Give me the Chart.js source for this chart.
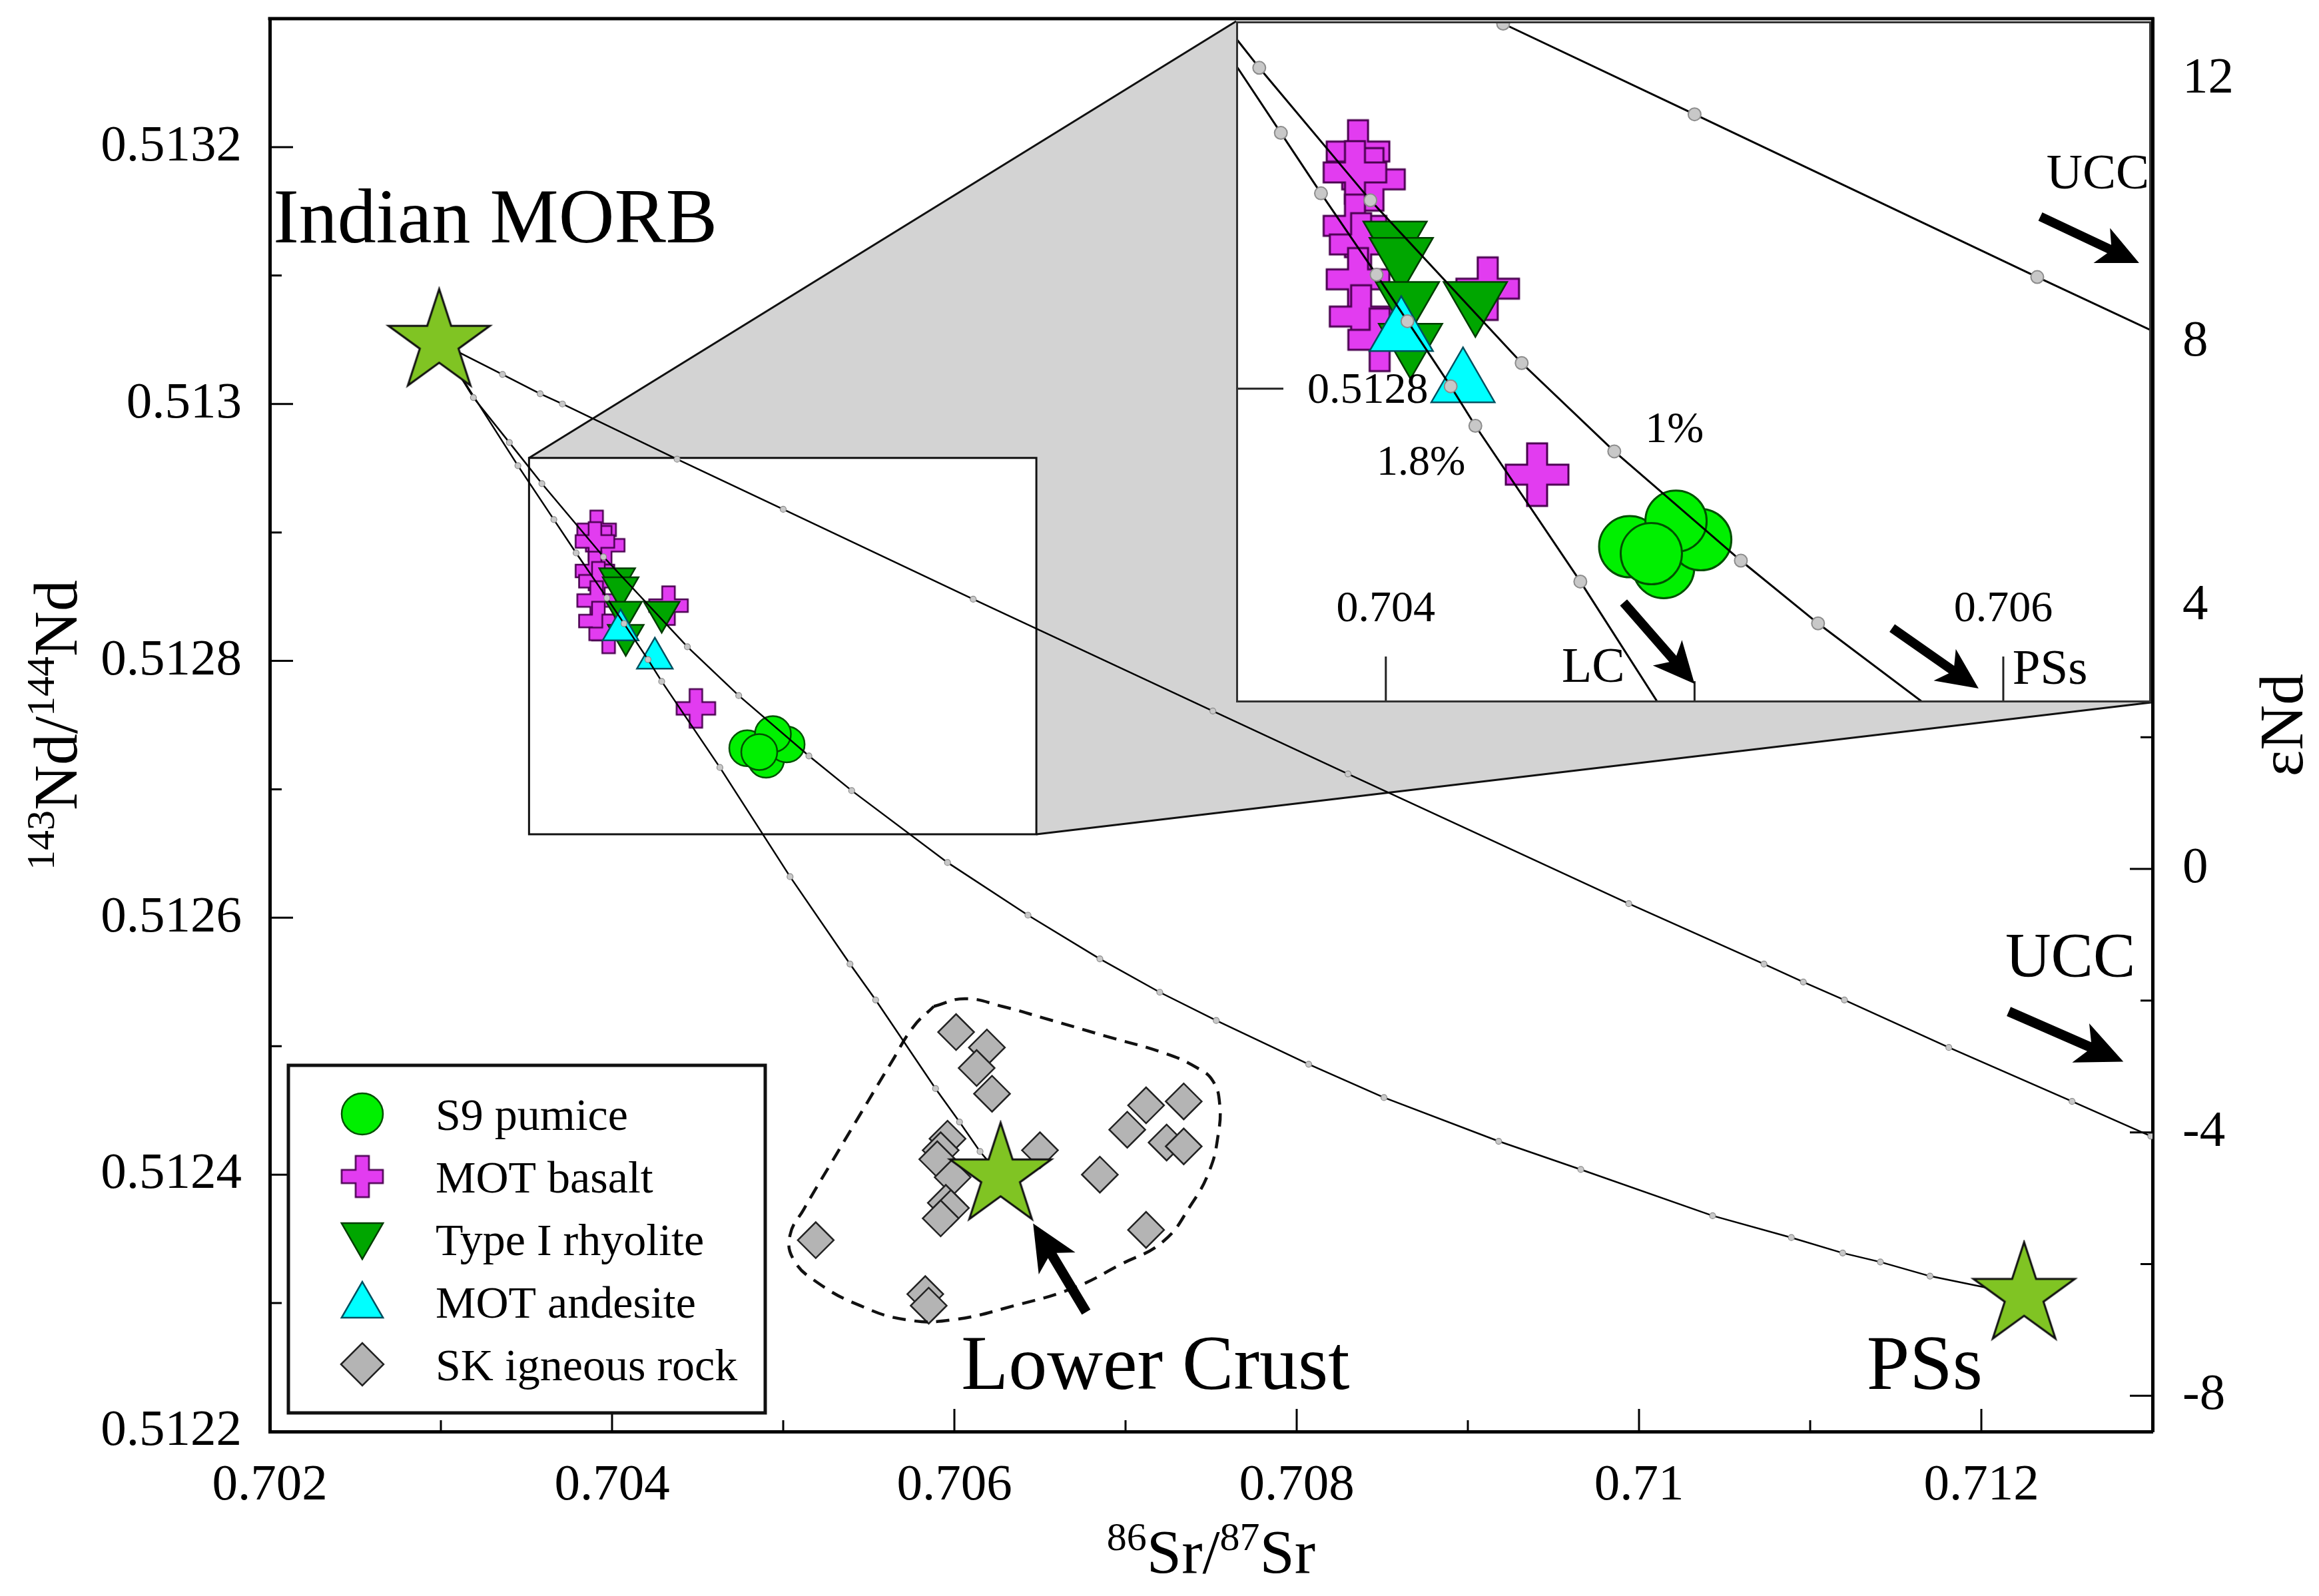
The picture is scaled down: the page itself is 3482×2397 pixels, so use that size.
<!DOCTYPE html>
<html>
<head>
<meta charset="utf-8">
<script src="https://cdn.jsdelivr.net/npm/chart.js@4.4.0/dist/chart.umd.min.js"></script>
<style>
  html, body { margin: 0; padding: 0; background: #fff; }
  #wrap { position: relative; width: 3482px; height: 2397px; }
  #main { position: absolute; left: 0; top: 0; }
  #inset { position: absolute; }
</style>
</head>
<body>
<div id="wrap">
  <canvas id="main" width="3482" height="2397"></canvas>
  <canvas id="inset"></canvas>
</div>
<script>
// ---- data ----
// mixing curves from Indian MORB (dots = mixing steps)
var ucc_sr = [0.70299, 0.70336, 0.70358, 0.70371, 0.70438, 0.70500, 0.70611, 0.70751, 0.70830, 0.70994, 0.71073, 0.71096, 0.71120, 0.71181, 0.71253, 0.71299];
var ucc_nd = [0.513048, 0.513023, 0.513008, 0.513000, 0.512957, 0.512918, 0.512848, 0.512761, 0.512712, 0.512611, 0.512564, 0.512550, 0.512536, 0.512499, 0.512457, 0.512430];
var pss_sr = [0.70299, 0.70319, 0.70340, 0.70359, 0.70395, 0.70444, 0.70474, 0.70515, 0.70540, 0.70596, 0.70643, 0.70685, 0.70720, 0.70753, 0.70807, 0.70851, 0.70918, 0.70966, 0.71043, 0.71089, 0.71119, 0.71141, 0.71170, 0.71225];
var pss_nd = [0.513048, 0.513005, 0.512970, 0.512938, 0.512881, 0.512811, 0.512773, 0.512726, 0.512699, 0.512643, 0.512602, 0.512568, 0.512542, 0.512520, 0.512486, 0.512460, 0.512426, 0.512404, 0.512368, 0.512351, 0.512339, 0.512332, 0.512321, 0.512306];
var lc_sr = [0.70299, 0.70345, 0.70366, 0.70379, 0.70397, 0.70407, 0.70421, 0.70429, 0.70463, 0.70504, 0.70539, 0.70554, 0.70589, 0.70603, 0.70615, 0.70627];
var lc_nd = [0.513048, 0.512952, 0.512910, 0.512884, 0.512849, 0.512829, 0.512801, 0.512784, 0.512717, 0.512632, 0.512564, 0.512536, 0.512467, 0.512441, 0.512418, 0.512399];

// samples
var pumice_sr = [0.70479, 0.70490, 0.70502, 0.70494, 0.70486];
var pumice_nd = [0.512732, 0.512723, 0.512735, 0.512743, 0.512729];
var basalt_sr = [0.70391, 0.70396, 0.70390, 0.70390, 0.70392, 0.70391, 0.70392, 0.70398, 0.70433, 0.70449];
var basalt_nd = [0.512902, 0.512890, 0.512893, 0.512870, 0.512862, 0.512847, 0.512831, 0.512821, 0.512843, 0.512763];
var rhyolite_sr = [0.70403, 0.70405, 0.70407, 0.70429, 0.70408];
var rhyolite_nd = [0.512864, 0.512857, 0.512838, 0.512838, 0.512820];
var andesite_sr = [0.70405, 0.70425];
var andesite_nd = [0.512824, 0.512802];
var sk_sr = [0.70601, 0.70619, 0.70613, 0.70622, 0.70596, 0.70592, 0.70590, 0.70599, 0.70595, 0.70598, 0.70592, 0.70650, 0.70712, 0.70734, 0.70701, 0.70724, 0.70734, 0.70685, 0.70712, 0.70519, 0.70583, 0.70585];
var sk_nd = [0.512511, 0.512499, 0.512483, 0.512463, 0.512428, 0.512419, 0.512412, 0.512398, 0.512378, 0.512374, 0.512366, 0.512419, 0.512454, 0.512457, 0.512435, 0.512425, 0.512422, 0.512400, 0.512357, 0.512349, 0.512307, 0.512298];

// end-members
var end_names = ['Indian MORB', 'Lower Crust', 'PSs'];
var end_sr = [0.70299, 0.70627, 0.71225];
var end_nd = [0.513048, 0.512399, 0.512306];

// dashed field around the SK rocks
var field_sr = [0.70588, 0.70606, 0.70628, 0.70652, 0.70688, 0.70724, 0.70742, 0.70751, 0.70755, 0.70754, 0.70749, 0.70738, 0.70722, 0.70697, 0.70670, 0.70635, 0.70599, 0.70572, 0.70545, 0.70520, 0.70506, 0.70504, 0.70512, 0.70528, 0.70545, 0.70563, 0.70576, 0.70588];
var field_nd = [0.512531, 0.512537, 0.512531, 0.512522, 0.512508, 0.512494, 0.512483, 0.512473, 0.512455, 0.512430, 0.512403, 0.512376, 0.512348, 0.512330, 0.512312, 0.512298, 0.512287, 0.512287, 0.512298, 0.512316, 0.512334, 0.512353, 0.512373, 0.512409, 0.512447, 0.512487, 0.512515, 0.512531];

// axes
var x_range = [0.702, 0.713];
var y_range = [0.5122, 0.5133];
var x_ticks = [0.702, 0.704, 0.706, 0.708, 0.710, 0.712];
var x_tick_labels = ['0.702', '0.704', '0.706', '0.708', '0.71', '0.712'];
var x_minor = [0.703, 0.705, 0.707, 0.709, 0.711];
var y_ticks = [0.5122, 0.5124, 0.5126, 0.5128, 0.5130, 0.5132];
var y_tick_labels = ['0.5122', '0.5124', '0.5126', '0.5128', '0.513', '0.5132'];
var y_minor = [0.5123, 0.5125, 0.5127, 0.5129, 0.5131];
var eps_ticks = [-8, -4, 0, 4, 8, 12];
var eps_tick_labels = ['-8', '-4', '0', '4', '8', '12'];
var eps_minor = [-6, -2, 2, 6, 10];
var CHUR = 0.512638;

// zoomed window
var inset_x = [0.703515, 0.706479];
var inset_y = [0.512665, 0.512958];
var inset_x_ticks = [0.704, 0.705, 0.706];
var inset_x_labels = ['0.704', '', '0.706'];
var inset_y_ticks = [0.5128];
var inset_y_labels = ['0.5128'];

// text and arrows (data coordinates)
var main_labels = [
  { text: 'Indian MORB', sr: 0.70202, nd: 0.513126, size: 116 },
  { text: 'Lower Crust', sr: 0.70604, nd: 0.512233, size: 116 },
  { text: 'PSs', sr: 0.71133, nd: 0.512233, size: 116 },
  { text: 'UCC', sr: 0.71214, nd: 0.512554, size: 95 }
];
var main_arrows = [
  { from: [0.71216, 0.512527], to: [0.71283, 0.512488] },
  { from: [0.70677, 0.512293], to: [0.70646, 0.512362] }
];
var inset_labels = [
  { text: 'UCC', sr: 0.70614, nd: 0.512886, size: 75 },
  { text: '1%', sr: 0.70484, nd: 0.512777, size: 66 },
  { text: '1.8%', sr: 0.70397, nd: 0.512763, size: 64 },
  { text: 'LC', sr: 0.70457, nd: 0.512674, size: 74 },
  { text: 'PSs', sr: 0.70603, nd: 0.512673, size: 75 }
];
var inset_arrows = [
  { from: [0.70612, 0.512874], to: [0.70644, 0.512854] },
  { from: [0.70477, 0.512708], to: [0.70500, 0.512673] },
  { from: [0.70564, 0.512697], to: [0.70592, 0.512671] }
];

// ---- layout ----
var W = 3482, H = 2397;
var AREA = { left: 405, right: 3232, top: 28, bottom: 2150 };
var INSET = { left: 1856, top: 32, width: 1374, height: 1023 };
var FONT = '"Liberation Serif", "Times New Roman", serif';

Chart.defaults.font.family = FONT;
Chart.defaults.color = '#000';

function pts(xs, ys) { return xs.map(function (x, i) { return { x: x, y: ys[i] }; }); }
function epsNd(v) { return (v / CHUR - 1) * 1e4; }

function makeStar(R, fill) {
  var c = document.createElement('canvas');
  c.width = c.height = Math.ceil(2 * R + 8);
  var g = c.getContext('2d'), o = c.width / 2;
  g.beginPath();
  for (var i = 0; i < 10; i++) {
    var a = -Math.PI / 2 + i * Math.PI / 5, r = i % 2 ? R * 0.382 : R;
    g.lineTo(o + r * Math.cos(a), o + r * Math.sin(a));
  }
  g.closePath();
  g.fillStyle = fill; g.fill();
  g.lineWidth = 3; g.strokeStyle = '#111'; g.stroke();
  return c;
}

function makePlus(size, arm, fill, stroke, lw) {
  var c = document.createElement('canvas');
  c.width = c.height = Math.ceil(size + 2 * lw);
  var g = c.getContext('2d'), o = c.width / 2, h = size / 2, a = arm / 2;
  g.beginPath();
  g.moveTo(o - a, o - h); g.lineTo(o + a, o - h); g.lineTo(o + a, o - a); g.lineTo(o + h, o - a);
  g.lineTo(o + h, o + a); g.lineTo(o + a, o + a); g.lineTo(o + a, o + h); g.lineTo(o - a, o + h);
  g.lineTo(o - a, o + a); g.lineTo(o - h, o + a); g.lineTo(o - h, o - a); g.lineTo(o - a, o - a);
  g.closePath();
  g.fillStyle = fill; g.fill();
  g.lineWidth = lw; g.strokeStyle = stroke; g.stroke();
  return c;
}

var C = {
  pumice: '#00f000', pumiceLine: '#005000',
  basalt: '#e23cf0', basaltLine: '#4a0050',
  rhyolite: '#00a600', rhyoliteLine: '#003c00',
  andesite: '#00ffff', andesiteLine: '#005060',
  sk: '#b4b4b4', skLine: '#222222',
  star: '#80c423'
};

var starImg = makeStar(80, C.star);
var plusMain = makePlus(58, 19, C.basalt, C.basaltLine, 2.5);
var plusInset = makePlus(94, 30, C.basalt, C.basaltLine, 3);
var plusLegend = makePlus(62, 20, C.basalt, C.basaltLine, 2.5);

function curve(label, xs, ys, lw, dot) {
  return {
    label: label, data: pts(xs, ys), showLine: true, fill: false,
    borderColor: '#000', borderWidth: lw, tension: 0,
    pointRadius: function (c) { return c.dataIndex === 0 ? 0 : dot; },
    pointBackgroundColor: '#c8c8c8', pointBorderColor: '#8c8c8c', pointBorderWidth: dot > 6 ? 2 : 1.2,
    order: 1
  };
}

function sampleSets(big) {
  return [
    { label: 'MOT andesite', data: pts(andesite_sr, andesite_nd), pointStyle: 'triangle',
      pointRadius: big ? 55 : 31, pointBackgroundColor: C.andesite, pointBorderColor: C.andesiteLine,
      pointBorderWidth: 2.5, order: 3, legend: 3 },
    { label: 'Type I rhyolite', data: pts(rhyolite_sr, rhyolite_nd), pointStyle: 'triangle', pointRotation: 180,
      pointRadius: big ? 55 : 31, pointBackgroundColor: C.rhyolite, pointBorderColor: C.rhyoliteLine,
      pointBorderWidth: 2.5, order: 4, legend: 2 },
    { label: 'MOT basalt', data: pts(basalt_sr, basalt_nd), pointStyle: big ? plusInset : plusMain,
      pointRadius: big ? 47 : 29, order: 5, legend: 1,
      pointBackgroundColor: C.basalt, pointBorderColor: C.basaltLine, pointBorderWidth: 2.5 },
    { label: 'S9 pumice', data: pts(pumice_sr, pumice_nd), pointStyle: 'circle',
      pointRadius: big ? 46 : 27, pointBackgroundColor: C.pumice, pointBorderColor: C.pumiceLine,
      pointBorderWidth: big ? 3 : 2.5, order: 6, legend: 0 },
    { label: 'SK igneous rock', data: pts(sk_sr, sk_nd), pointStyle: 'rectRot',
      pointRadius: 27, pointBackgroundColor: C.sk, pointBorderColor: C.skLine,
      pointBorderWidth: 2.5, order: 7, legend: 4 }
  ];
}

function arrow(ctx, x0, y0, x1, y1, shaft, headLen, headW) {
  var a = Math.atan2(y1 - y0, x1 - x0), L = Math.hypot(x1 - x0, y1 - y0);
  ctx.save();
  ctx.translate(x1, y1); ctx.rotate(a);
  ctx.beginPath();
  ctx.moveTo(-L, -shaft / 2);
  ctx.lineTo(-headLen * 0.8, -shaft / 2);
  ctx.lineTo(-headLen, -headW / 2);
  ctx.lineTo(0, 0);
  ctx.lineTo(-headLen, headW / 2);
  ctx.lineTo(-headLen * 0.8, shaft / 2);
  ctx.lineTo(-L, shaft / 2);
  ctx.closePath();
  ctx.fillStyle = '#000'; ctx.fill();
  ctx.restore();
}

function richText(ctx, parts, x, y, size, supSize) {
  var w = 0;
  parts.forEach(function (p) { ctx.font = (p[1] ? supSize : size) + 'px ' + FONT; w += ctx.measureText(p[0]).width; });
  var cx = x - w / 2;
  ctx.textAlign = 'left'; ctx.textBaseline = 'alphabetic';
  parts.forEach(function (p) {
    ctx.font = (p[1] ? supSize : size) + 'px ' + FONT;
    ctx.fillText(p[0], cx, p[1] ? y - size * 0.36 : y);
    cx += ctx.measureText(p[0]).width;
  });
}

function drawSymbol(ctx, ds, x, y, r) {
  ctx.save();
  ctx.fillStyle = ds.pointBackgroundColor;
  ctx.strokeStyle = ds.pointBorderColor;
  ctx.lineWidth = ds.pointBorderWidth;
  var style = ds.label === 'MOT basalt' ? plusLegend : ds.pointStyle;
  Chart.helpers.drawPoint(ctx, { pointStyle: style, rotation: ds.pointRotation || 0, radius: r, borderWidth: ds.pointBorderWidth }, x, y);
  ctx.restore();
}

// ---- main chart decorations ----
var mainDecor = {
  id: 'mainDecor',
  beforeDraw: function (chart) {
    var ctx = chart.ctx;
    ctx.save(); ctx.fillStyle = '#fff'; ctx.fillRect(0, 0, chart.width, chart.height); ctx.restore();
  },
  beforeDatasetsDraw: function (chart) {
    var ctx = chart.ctx, xs = chart.scales.x, ys = chart.scales.y;
    var rx0 = xs.getPixelForValue(inset_x[0]), rx1 = xs.getPixelForValue(inset_x[1]);
    var ry0 = ys.getPixelForValue(inset_y[1]), ry1 = ys.getPixelForValue(inset_y[0]);
    var ix0 = INSET.left, iy0 = INSET.top, ix1 = INSET.left + INSET.width, iy1 = INSET.top + INSET.height;
    ctx.save();
    ctx.beginPath();
    ctx.moveTo(rx0, ry0); ctx.lineTo(ix0, iy0); ctx.lineTo(ix1, iy1); ctx.lineTo(rx1, ry1); ctx.lineTo(rx1, ry0);
    ctx.closePath();
    ctx.fillStyle = '#d3d3d3'; ctx.fill();
    ctx.strokeStyle = '#111'; ctx.lineWidth = 3;
    ctx.beginPath(); ctx.moveTo(rx0, ry0); ctx.lineTo(ix0, iy0); ctx.moveTo(rx1, ry1); ctx.lineTo(ix1, iy1); ctx.stroke();
    ctx.strokeRect(rx0, ry0, rx1 - rx0, ry1 - ry0);
    ctx.restore();
  },
  afterDraw: function (chart) {
    var ctx = chart.ctx, a = chart.chartArea, xs = chart.scales.x, ys = chart.scales.y, y2 = chart.scales.y2;
    ctx.save();
    // inward ticks
    ctx.strokeStyle = '#000'; ctx.lineWidth = 3;
    ctx.beginPath();
    function xt(vals, len) { vals.forEach(function (v) { var p = xs.getPixelForValue(v); ctx.moveTo(p, a.bottom); ctx.lineTo(p, a.bottom - len); }); }
    function yt(vals, len) { vals.forEach(function (v) { var p = ys.getPixelForValue(v); ctx.moveTo(a.left, p); ctx.lineTo(a.left + len, p); }); }
    function rt(vals, len) { vals.forEach(function (v) { var p = y2.getPixelForValue(v); ctx.moveTo(a.right, p); ctx.lineTo(a.right - len, p); }); }
    xt(x_ticks, 34); xt(x_minor, 17);
    yt(y_ticks, 35); yt(y_minor, 18);
    rt(eps_ticks, 34); rt(eps_minor, 18);
    ctx.stroke();
    // top frame line
    ctx.lineWidth = 5;
    ctx.beginPath(); ctx.moveTo(a.left - 2.5, a.top); ctx.lineTo(a.right + 2.5, a.top); ctx.stroke();

    // text labels
    ctx.fillStyle = '#000'; ctx.textAlign = 'left'; ctx.textBaseline = 'alphabetic';
    main_labels.forEach(function (l) {
      ctx.font = l.size + 'px ' + FONT;
      ctx.fillText(l.text, xs.getPixelForValue(l.sr), ys.getPixelForValue(l.nd));
    });
    main_arrows.forEach(function (r) {
      arrow(ctx, xs.getPixelForValue(r.from[0]), ys.getPixelForValue(r.from[1]),
        xs.getPixelForValue(r.to[0]), ys.getPixelForValue(r.to[1]), 15, 70, 64);
    });

    // legend
    var bx = a.left + 28, bw = 716, bh = 522, by = a.bottom - 28 - bh;
    ctx.fillStyle = '#fff'; ctx.fillRect(bx, by, bw, bh);
    ctx.lineWidth = 5; ctx.strokeStyle = '#111'; ctx.strokeRect(bx, by, bw, bh);
    var items = chart.data.datasets.filter(function (d) { return d.legend !== undefined; })
      .sort(function (p, q) { return p.legend - q.legend; });
    var radii = { 'S9 pumice': 31, 'MOT basalt': 31, 'Type I rhyolite': 36, 'MOT andesite': 36, 'SK igneous rock': 32 };
    items.forEach(function (d, i) {
      var cy = by + 73 + i * 94;
      var off = d.pointStyle === 'triangle' ? (d.pointRotation ? -6 : 6) : 0;
      drawSymbol(ctx, d, bx + 111, cy + off, radii[d.label]);
      ctx.fillStyle = '#000'; ctx.font = '68px ' + FONT; ctx.textAlign = 'left';
      ctx.fillText(d.label, bx + 221, cy + 24);
    });

    // axis titles
    ctx.fillStyle = '#000';
    richText(ctx, [['86', 1], ['Sr/', 0], ['87', 1], ['Sr', 0]], (a.left + a.right) / 2, 2362, 94, 60);
    ctx.save(); ctx.translate(115, (a.top + a.bottom) / 2); ctx.rotate(-Math.PI / 2);
    richText(ctx, [['143', 1], ['Nd/', 0], ['144', 1], ['Nd', 0]], 0, 0, 94, 60);
    ctx.restore();
    ctx.save(); ctx.translate(3457, (a.top + a.bottom) / 2); ctx.rotate(-Math.PI / 2);
    richText(ctx, [['\u03b5Nd', 0]], 0, 0, 94, 60);
    ctx.restore();
    ctx.restore();
  }
};

function fitV(w) { return function (s) { s.width = w; s.paddingTop = 0; s.paddingBottom = 0; }; }

var tickFont = { family: FONT, size: 77 };
var mainSets = [
  { label: 'end-members', data: pts(end_sr, end_nd), pointStyle: starImg, pointRadius: 40, order: 0 },
  curve('UCC', ucc_sr, ucc_nd, 2.5, 4.5),
  curve('PSs', pss_sr, pss_nd, 2.5, 4.5),
  curve('LC', lc_sr, lc_nd, 2.5, 4.5),
  { label: 'SK field', data: pts(field_sr, field_nd), showLine: true, fill: false, tension: 0.45,
    borderColor: '#111', borderWidth: 4.5, borderDash: [20, 13], pointRadius: 0, order: 2 }
].concat(sampleSets(false));

new Chart(document.getElementById('main'), {
  type: 'scatter',
  data: { datasets: mainSets },
  options: {
    responsive: false, animation: false, devicePixelRatio: 1,
    layout: { padding: { top: AREA.top, left: 0, right: 0, bottom: 0 }, autoPadding: false },
    plugins: { legend: { display: false }, tooltip: { enabled: false } },
    scales: {
      x: {
        type: 'linear', position: 'bottom', min: x_range[0], max: x_range[1],
        afterBuildTicks: function (s) { s.ticks = x_ticks.map(function (v) { return { value: v }; }); },
        afterFit: function (s) { s.height = H - AREA.bottom; s.paddingLeft = 0; s.paddingRight = 0; },
        grid: { display: false, drawTicks: false },
        border: { display: true, color: '#000', width: 5 },
        ticks: { padding: 36, font: tickFont, color: '#000', autoSkip: false, maxRotation: 0, minRotation: 0,
          callback: function (v, i) { return x_tick_labels[i]; } }
      },
      y: {
        type: 'linear', position: 'left', min: y_range[0], max: y_range[1],
        afterBuildTicks: function (s) { s.ticks = y_ticks.map(function (v) { return { value: v }; }); },
        afterFit: fitV(AREA.left),
        grid: { display: false, drawTicks: false },
        border: { display: true, color: '#000', width: 5 },
        ticks: { padding: 42, font: tickFont, color: '#000', autoSkip: false,
          callback: function (v, i) { return y_tick_labels[i]; } }
      },
      y2: {
        type: 'linear', position: 'right', min: epsNd(y_range[0]), max: epsNd(y_range[1]),
        afterBuildTicks: function (s) { s.ticks = eps_ticks.map(function (v) { return { value: v }; }); },
        afterFit: fitV(W - AREA.right),
        grid: { display: false, drawTicks: false },
        border: { display: true, color: '#000', width: 5 },
        ticks: { padding: 45, font: tickFont, color: '#000', autoSkip: false,
          callback: function (v, i) { return eps_tick_labels[i]; } }
      }
    }
  },
  plugins: [mainDecor]
});

// ---- inset (zoom of the boxed window) ----
var insetCanvas = document.getElementById('inset');
insetCanvas.width = INSET.width; insetCanvas.height = INSET.height;
insetCanvas.style.left = INSET.left + 'px'; insetCanvas.style.top = INSET.top + 'px';

var insetDecor = {
  id: 'insetDecor',
  beforeDraw: function (chart) {
    var ctx = chart.ctx;
    ctx.save(); ctx.fillStyle = '#fff'; ctx.fillRect(0, 0, chart.width, chart.height); ctx.restore();
  },
  afterDraw: function (chart) {
    var ctx = chart.ctx, xs = chart.scales.x, ys = chart.scales.y, w = chart.width, h = chart.height;
    ctx.save();
    ctx.strokeStyle = '#222'; ctx.lineWidth = 3;
    ctx.beginPath();
    inset_x_ticks.forEach(function (v, i) {
      var p = xs.getPixelForValue(v), len = inset_x_labels[i] ? 69 : 32;
      ctx.moveTo(p, h); ctx.lineTo(p, h - len);
    });
    inset_y_ticks.forEach(function (v) { var p = ys.getPixelForValue(v); ctx.moveTo(0, p); ctx.lineTo(71, p); });
    ctx.stroke();
    ctx.fillStyle = '#000'; ctx.font = '66px ' + FONT; ctx.textBaseline = 'alphabetic';
    ctx.textAlign = 'center';
    inset_x_ticks.forEach(function (v, i) {
      if (inset_x_labels[i]) ctx.fillText(inset_x_labels[i], xs.getPixelForValue(v), h - 69 - 53);
    });
    ctx.textAlign = 'left';
    inset_y_ticks.forEach(function (v, i) { ctx.fillText(inset_y_labels[i], 107, ys.getPixelForValue(v) + 21); });
    inset_labels.forEach(function (l) {
      ctx.font = l.size + 'px ' + FONT;
      ctx.fillText(l.text, xs.getPixelForValue(l.sr), ys.getPixelForValue(l.nd));
    });
    inset_arrows.forEach(function (r) {
      arrow(ctx, xs.getPixelForValue(r.from[0]), ys.getPixelForValue(r.from[1]),
        xs.getPixelForValue(r.to[0]), ys.getPixelForValue(r.to[1]), 14, 62, 58);
    });
    ctx.lineWidth = 3; ctx.strokeStyle = '#333';
    ctx.strokeRect(1.5, 1.5, w - 3, h - 3);
    ctx.restore();
  }
};

var insetSets = [
  curve('UCC', ucc_sr, ucc_nd, 3, 9.5),
  curve('PSs', pss_sr, pss_nd, 3, 9.5),
  curve('LC', lc_sr, lc_nd, 3, 9.5)
].concat(sampleSets(true).filter(function (d) { return d.label !== 'SK igneous rock'; }));

new Chart(insetCanvas, {
  type: 'scatter',
  data: { datasets: insetSets },
  options: {
    responsive: false, animation: false, devicePixelRatio: 1,
    layout: { padding: 0, autoPadding: false },
    plugins: { legend: { display: false }, tooltip: { enabled: false } },
    scales: {
      x: { type: 'linear', display: false, min: inset_x[0], max: inset_x[1] },
      y: { type: 'linear', display: false, min: inset_y[0], max: inset_y[1] }
    }
  },
  plugins: [insetDecor]
});
</script>
</body>
</html>
